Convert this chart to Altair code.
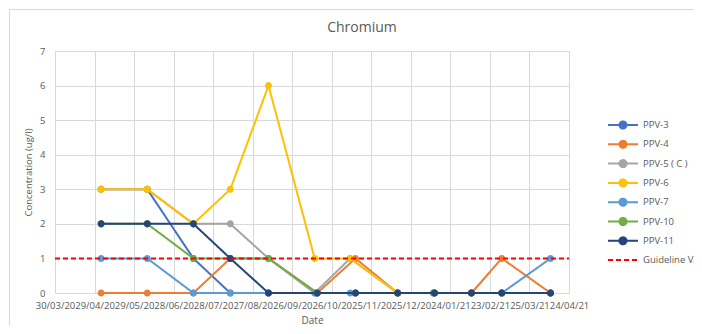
import altair as alt
import pandas as pd

FONT = "Open Sans"
TEXT = "#595959"
GRID = "#D9D9D9"

chart_title = "Chromium"
series_names = ["PPV-3", "PPV-4", "PPV-5 ( C )", "PPV-6", "PPV-7", "PPV-10", "PPV-11"]
guideline_name = "Guideline Value"
series_colors = ["#4472C4", "#ED7D31", "#A5A5A5", "#FFC000", "#5B9BD5", "#70AD47", "#264478"]
guideline_color = "#FF0000"

dates_a = ["2020-05-04", "2020-06-08", "2020-07-13", "2020-08-10", "2020-09-08", "2020-10-13",
           "2020-11-09", "2020-12-15", "2021-01-11", "2021-02-09", "2021-03-04", "2021-04-10"]
dates_b = ["2020-05-04", "2020-06-08", "2020-07-13", "2020-08-10", "2020-09-08", "2020-10-15",
           "2020-11-13", "2020-12-15", "2021-01-12", "2021-02-09", "2021-03-04", "2021-04-10"]

ppv3 = [3, 3, 1, 0, 0, 0, 0, 0, 0, 0, 0, 0]
ppv4 = [0, 0, 0, 1, 1, 0, 1, 0, 0, 0, 1, 0]
ppv5 = [3, 3, 2, 2, 1, 0, 1, 0, 0, 0, 0, 0]
ppv6 = [3, 3, 2, 3, 6, 1, 1, 0, 0, 0, 0, 0]
ppv7 = [1, 1, 0, 0, 0, 0, 0, 0, 0, 0, 0, 1]
ppv10 = [2, 2, 1, 1, 1, 0, 0, 0, 0, 0, 0, 0]
ppv11 = [2, 2, 2, 1, 0, 0, 0, 0, 0, 0, 0, 0]

series_values = [ppv3, ppv4, ppv5, ppv6, ppv7, ppv10, ppv11]
series_dates = [dates_b, dates_b, dates_a, dates_a, dates_a, dates_b, dates_b]

guideline_dates = ["2020-03-30", "2021-04-24"]
guideline_values = [1, 1]

tick_dates = ["2020-03-30", "2020-04-29", "2020-05-29", "2020-06-28", "2020-07-28", "2020-08-27",
              "2020-09-26", "2020-10-26", "2020-11-25", "2020-12-25", "2021-01-24", "2021-02-23",
              "2021-03-25", "2021-04-24"]
y_ticks = [0, 1, 2, 3, 4, 5, 6, 7]


def ms(d):
    return int(pd.Timestamp(d).value // 10**6)


tick_ms = [ms(d) for d in tick_dates]
x_domain = [ms(tick_dates[0]), ms(tick_dates[-1])]

all_names = series_names + [guideline_name]
all_colors = series_colors + [guideline_color]
marker_path = "M-2,0H2M-0.47,0A0.47,0.47 0 1,0 0.47,0A0.47,0.47 0 1,0 -0.47,0Z"
dash_path = "M-2,0H2"

color_scale = alt.Scale(domain=all_names, range=all_colors)
dash_scale = alt.Scale(domain=all_names, range=[[1, 0]] * 7 + [[5, 3]])
shape_scale = alt.Scale(domain=all_names, range=[marker_path] * 7 + [dash_path])

legend = alt.Legend(
    title=None, orient="none", legendX=559.5, legendY=65.5, padding=0,
    symbolSize=225, symbolStrokeWidth=2, rowPadding=2.3, labelOffset=11.5,
    labelFont=FONT, labelFontSize=9.5, labelColor=TEXT, labelLimit=120,
)

x_enc = alt.X(
    "date:T",
    scale=alt.Scale(type="utc", domain=x_domain, nice=False),
    axis=alt.Axis(
        title="Date", values=tick_ms,
        labelExpr="utcFormat(datum.value, '%d/%m/%y')",
        labelAngle=0, labelOverlap=False, labelFlush=False,
        grid=True, gridColor=GRID, ticks=False, domainColor=GRID,
        labelFont=FONT, labelFontSize=9.5, labelColor=TEXT, labelPadding=7,
        titleFont=FONT, titleFontSize=10, titleColor=TEXT, titleFontWeight="normal",
        titlePadding=6,
    ),
)
y_enc = alt.Y(
    "value:Q",
    scale=alt.Scale(domain=[0, 7], nice=False),
    axis=alt.Axis(
        title="Concentration (ug/l)", values=y_ticks, format="d",
        grid=True, gridColor=GRID, ticks=False, domain=False,
        labelFont=FONT, labelFontSize=9.5, labelColor=TEXT, labelPadding=10,
        titleFont=FONT, titleFontSize=9.5, titleColor=TEXT, titleFontWeight="normal",
        titlePadding=6,
    ),
)
color_enc = alt.Color("series:N", scale=color_scale, legend=legend)
dash_enc = alt.StrokeDash("series:N", scale=dash_scale, legend=legend)
shape_enc = alt.Shape("series:N", scale=shape_scale, legend=legend)

border = alt.Chart(pd.DataFrame({"k": [0]})).mark_rect(
    fillOpacity=0, stroke=GRID, strokeWidth=1
).encode(x=alt.value(-45.5), x2=alt.value(700), y=alt.value(-41.5), y2=alt.value(400))

title = alt.Chart(pd.DataFrame({"t": [chart_title]})).mark_text(
    font=FONT, fontSize=14, color=TEXT, align="center", baseline="middle"
).encode(text="t:N", x=alt.value(307), y=alt.value(-23))

layers = [border, title]
for name, dates, vals in zip(series_names, series_dates, series_values):
    df = pd.DataFrame({"date": dates, "value": vals, "series": name})
    base = alt.Chart(df)
    layers.append(base.mark_line(strokeWidth=2).encode(x=x_enc, y=y_enc, color=color_enc, strokeDash=dash_enc))
    layers.append(base.mark_point(filled=True, size=225, opacity=1).encode(
        x=x_enc, y=y_enc, color=color_enc, shape=shape_enc))

gdf = pd.DataFrame({"date": guideline_dates, "value": guideline_values, "series": guideline_name})
layers.append(alt.Chart(gdf).mark_line(strokeWidth=2).encode(
    x=x_enc, y=y_enc, color=color_enc, strokeDash=dash_enc))

chart = alt.layer(*layers).properties(
    width=514, height=242,
    autosize=alt.AutoSizeParams(type="none"),
    padding={"left": 47, "top": 43, "right": 125, "bottom": 33},
).configure_view(stroke=None).configure(background="white")

chart.save("out.html", embed_options={"renderer": "svg", "actions": False})
